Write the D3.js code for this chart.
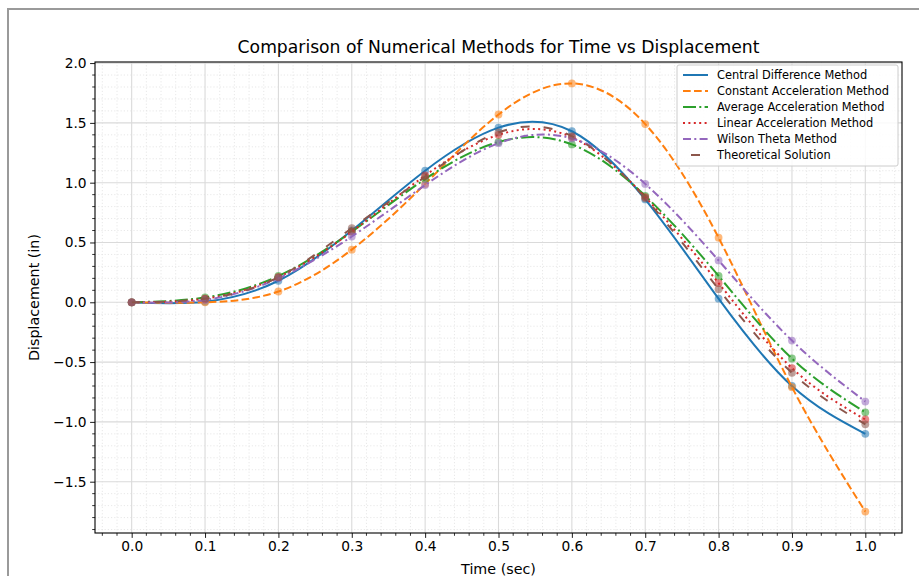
<!DOCTYPE html>
<html>
<head>
<meta charset="utf-8">
<script src="https://cdn.jsdelivr.net/npm/d3@7"></script>
<style>
  body { margin: 0; background: #fff; }
  svg { display: block; font-family: "DejaVu Sans", sans-serif; }
</style>
</head>
<body>
<svg width="919" height="576"></svg>
<script>
// time steps (sec)
const times = [0, 0.1, 0.2, 0.3, 0.4, 0.5, 0.6, 0.7, 0.8, 0.9, 1.0]

// displacement (in)
const centralDiff  = [0, 0.005, 0.18, 0.60, 1.10, 1.46, 1.43, 0.86, 0.03, -0.70, -1.10]
const constAccel   = [0, 0.0, 0.09, 0.44, 0.99, 1.57, 1.83, 1.49, 0.54, -0.71, -1.75]
const avgAccel     = [0, 0.04, 0.22, 0.59, 1.03, 1.34, 1.32, 0.89, 0.22, -0.47, -0.92]
const linAccel     = [0, 0.03, 0.21, 0.59, 1.06, 1.40, 1.38, 0.88, 0.16, -0.55, -0.98]
const wilsonTheta  = [0, 0.02, 0.20, 0.55, 0.98, 1.33, 1.37, 0.99, 0.35, -0.32, -0.83]
const theoretical  = [0, 0.03, 0.21, 0.62, 1.05, 1.42, 1.39, 0.87, 0.11, -0.59, -1.02]

const seriesNames = ["Central Difference Method", "Constant Acceleration Method",
  "Average Acceleration Method", "Linear Acceleration Method", "Wilson Theta Method",
  "Theoretical Solution"]
const seriesValues = [centralDiff, constAccel, avgAccel, linAccel, wilsonTheta, theoretical]
const seriesColors = ["#1f77b4", "#ff7f0e", "#2ca02c", "#d62728", "#9467bd", "#8c564b"]
const seriesDashes = [null, "7.7,3.3", "13,3.3,2,3.3", "2,3.4", "8,3.3,2,3.3", "9,14"]

const xTicks = d3.range(0, 1.0001, 0.1)
const yTicks = [-1.5, -1.0, -0.5, 0.0, 0.5, 1.0, 1.5, 2.0]

const svg = d3.select("svg")

// figure frame (gray border of the window)
svg.append("rect")
  .attr("x", 8).attr("y", 9)
  .attr("width", 940).attr("height", 600)
  .attr("fill", "none")
  .attr("stroke", "#9a9a9a")
  .attr("stroke-width", 2)

const mLeft = 95, mRight = 902, mTop = 62, mBottom = 533

const x = d3.scaleLinear().domain([-0.05, 1.05]).range([mLeft, mRight])
const y = d3.scaleLinear().domain([-1.929, 2.009]).range([mBottom, mTop])

const fmt = d => d3.format(".1f")(d).replace("-", "\u2212")

// grid: minor dotted, major solid
const grid = svg.append("g").attr("class", "grid")
const xMinor = d3.range(-0.04, 1.05, 0.02).filter(v => Math.abs(Math.round(v * 10) - v * 10) > 1e-6)
const yMinor = d3.range(-1.9, 2.01, 0.1).filter(v => Math.abs(Math.round(v * 2) - v * 2) > 1e-6)

grid.selectAll(".xmin").data(xMinor).enter().append("line")
  .attr("x1", d => x(d)).attr("x2", d => x(d))
  .attr("y1", mTop).attr("y2", mBottom)
  .attr("stroke", "#e2e2e2").attr("stroke-width", 0.8)
  .attr("stroke-dasharray", "1.2,2")

grid.selectAll(".ymin").data(yMinor).enter().append("line")
  .attr("x1", mLeft).attr("x2", mRight)
  .attr("y1", d => y(d)).attr("y2", d => y(d))
  .attr("stroke", "#e2e2e2").attr("stroke-width", 0.8)
  .attr("stroke-dasharray", "1.2,2")

grid.selectAll(".xmaj").data(xTicks).enter().append("line")
  .attr("x1", d => x(d)).attr("x2", d => x(d))
  .attr("y1", mTop).attr("y2", mBottom)
  .attr("stroke", "#dadada").attr("stroke-width", 1.1)

grid.selectAll(".ymaj").data(yTicks).enter().append("line")
  .attr("x1", mLeft).attr("x2", mRight)
  .attr("y1", d => y(d)).attr("y2", d => y(d))
  .attr("stroke", "#dadada").attr("stroke-width", 1.1)

// curves
const line = d3.line()
  .x(d => x(d[0]))
  .y(d => y(d[1]))
  .curve(d3.curveNatural)

const plot = svg.append("g").attr("class", "series")

seriesValues.forEach((vals, i) => {
  const pts = times.map((t, k) => [t, vals[k]])

  plot.append("path")
    .datum(pts)
    .attr("d", line)
    .attr("fill", "none")
    .attr("stroke", seriesColors[i])
    .attr("stroke-width", 2)
    .attr("stroke-dasharray", seriesDashes[i])

  plot.selectAll(".pt" + i)
    .data(pts)
    .enter().append("circle")
    .attr("cx", d => x(d[0]))
    .attr("cy", d => y(d[1]))
    .attr("r", 3.9)
    .attr("fill", seriesColors[i])
    .attr("fill-opacity", 0.55)
})

// axes
const xAxis = svg.append("g")
  .attr("transform", `translate(0,${mBottom})`)
  .call(d3.axisBottom(x).tickValues(xTicks).tickFormat(fmt).tickSize(4.9).tickPadding(3.5))
xAxis.append("g").selectAll("line").data(xMinor).enter().append("line")
  .attr("x1", d => x(d)).attr("x2", d => x(d))
  .attr("y1", 0).attr("y2", 2.8)
  .attr("stroke", "#000").attr("stroke-width", 0.8)

const yAxis = svg.append("g")
  .attr("transform", `translate(${mLeft},0)`)
  .call(d3.axisLeft(y).tickValues(yTicks).tickFormat(fmt).tickSize(4.9).tickPadding(3.5))
yAxis.append("g").selectAll("line").data(yMinor).enter().append("line")
  .attr("y1", d => y(d)).attr("y2", d => y(d))
  .attr("x1", 0).attr("x2", -2.8)
  .attr("stroke", "#000").attr("stroke-width", 0.8)

svg.selectAll(".domain").remove()
svg.selectAll(".tick text")
  .attr("font-size", 13.8)
  .attr("font-family", "DejaVu Sans, sans-serif")
  .attr("fill", "#000")
svg.selectAll(".tick line").attr("stroke-width", 0.9)

// spines
svg.append("rect")
  .attr("x", mLeft).attr("y", mTop)
  .attr("width", mRight - mLeft).attr("height", mBottom - mTop)
  .attr("fill", "none").attr("stroke", "#000").attr("stroke-width", 1.1)

// title and labels
svg.append("text")
  .attr("x", (mLeft + mRight) / 2).attr("y", 53)
  .attr("text-anchor", "middle")
  .attr("font-size", 17.2)
  .text("Comparison of Numerical Methods for Time vs Displacement")

svg.append("text")
  .attr("x", (mLeft + mRight) / 2).attr("y", 574)
  .attr("text-anchor", "middle")
  .attr("font-size", 14.3)
  .text("Time (sec)")

svg.append("text")
  .attr("transform", `translate(39,${(mTop + mBottom) / 2}) rotate(-90)`)
  .attr("text-anchor", "middle")
  .attr("font-size", 14.3)
  .text("Displacement (in)")

// legend
const legend = svg.append("g").attr("transform", "translate(677,65)")
legend.append("rect")
  .attr("width", 221).attr("height", 101)
  .attr("rx", 2)
  .attr("fill", "#fff").attr("fill-opacity", 0.85)
  .attr("stroke", "#cccccc").attr("stroke-width", 1)

seriesNames.forEach((name, i) => {
  const ly = 10 + i * 16
  legend.append("line")
    .attr("x1", 6).attr("x2", 31)
    .attr("y1", ly).attr("y2", ly)
    .attr("stroke", seriesColors[i])
    .attr("stroke-width", 2)
    .attr("stroke-dasharray", seriesDashes[i])
    .attr("stroke-dashoffset", i === 5 ? -8 : 0)
  legend.append("text")
    .attr("x", 40).attr("y", ly + 4)
    .attr("font-size", 11.4)
    .text(name)
})
</script>
</body>
</html>
